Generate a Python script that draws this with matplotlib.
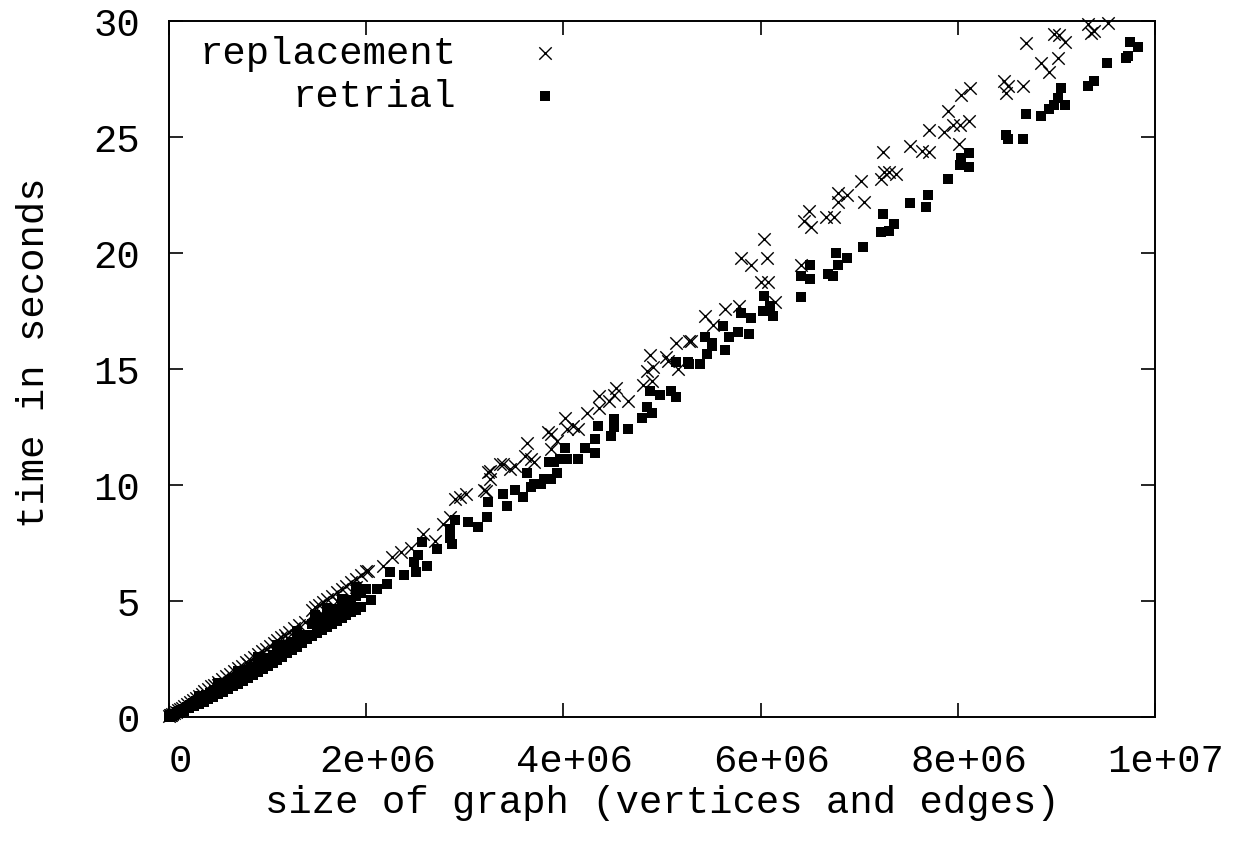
import matplotlib
matplotlib.use("Agg")
import matplotlib.pyplot as plt
import matplotlib.transforms as mtransforms
import numpy as np

# ---- data (size in millions of vertices+edges, time in seconds) ----
repl_size = [0.00,0.01,0.02,0.03,0.05,0.07,0.09,0.11,0.13,0.15,0.18,0.21,0.24,0.27,0.30,0.33,0.36,0.40,0.43,0.46,
             0.50,0.54,0.58,0.62,0.66,0.70,0.74,0.78,0.82,0.86,0.90,0.94,0.98,1.02,1.06,1.10,1.14,1.18,1.22,1.27,
             1.32,1.38,1.45,1.48,1.52,1.56,1.60,1.65,1.70,1.75,1.80,1.85,1.90,1.95,2.00,
             0.50,0.80,1.20,1.50,1.70,1.90,
             2.02,2.17,2.26,2.35,2.45,2.58,2.70,2.78,2.85,2.90,2.95,3.01,3.19,3.21,3.24,3.26,3.26,3.36,3.39,3.46,
             3.51,3.61,3.63,3.67,3.70,3.84,3.87,3.87,3.94,4.02,4.04,4.10,4.15,4.24,4.36,4.36,4.46,4.51,4.53,4.66,
             4.81,4.85,4.88,4.90,4.91,5.04,5.06,5.14,5.16,5.27,5.29,5.44,5.52,5.64,5.78,5.80,5.90,6.00,6.03,6.06,
             6.08,6.15,6.41,6.44,6.49,6.51,6.66,6.74,6.78,6.78,6.88,7.02,7.05,7.22,7.24,7.25,7.30,7.37,7.52,7.64,
             7.71,7.71,7.86,7.90,7.95,8.01,8.02,8.03,8.11,8.12,8.47,8.49,8.51,8.66,8.69,8.84,8.92,8.98,9.02,9.03,
             9.09,9.32,9.35,9.38,9.52]
repl_time = [0.05,0.08,0.10,0.12,0.18,0.22,0.30,0.35,0.40,0.47,0.55,0.65,0.72,0.82,0.92,1.00,1.10,1.22,1.33,1.40,
             1.52,1.63,1.75,1.86,1.98,2.12,2.20,2.35,2.45,2.58,2.72,2.85,2.95,3.05,3.20,3.32,3.45,3.55,3.68,3.82,
             3.95,4.10,4.62,4.72,4.82,4.95,5.10,5.22,5.38,5.50,5.65,5.82,5.95,6.10,6.28,
             1.40,2.30,3.40,4.30,5.00,5.60,
             6.30,6.50,6.90,7.10,7.30,7.90,7.60,8.30,8.60,9.40,9.50,9.60,9.80,9.75,10.55,10.25,10.60,10.90,10.90,10.70,
             10.80,11.25,11.80,11.10,11.00,12.30,12.20,11.55,11.90,12.90,12.40,12.55,12.40,13.10,13.85,13.30,13.60,13.90,14.20,13.60,
             14.30,14.90,15.60,14.50,15.10,15.50,15.35,16.10,15.00,16.20,16.20,17.30,16.90,17.60,17.70,19.80,19.50,18.75,20.60,19.80,
             18.75,17.90,19.50,21.40,21.80,21.10,21.55,21.55,22.60,22.20,22.50,23.10,22.20,23.20,24.35,23.50,23.50,23.40,24.60,24.40,
             24.35,25.30,25.20,26.10,25.50,24.70,25.50,26.80,25.70,27.10,27.40,26.90,27.20,27.20,29.05,28.20,27.80,29.44,28.40,29.40,
             29.10,29.87,29.50,29.57,29.90]

retr_size = [0.00,0.01,0.02,0.04,0.06,0.08,0.10,0.12,0.15,0.18,0.21,0.24,0.27,0.30,0.34,0.38,0.42,0.46,0.50,0.55,
             0.60,0.65,0.70,0.75,0.80,0.85,0.90,0.95,1.00,1.05,1.10,1.15,1.20,1.25,1.30,1.35,1.40,1.45,1.50,1.55,
             1.60,1.65,1.70,1.75,1.80,1.85,1.90,1.95,2.00,
             0.30,0.50,0.70,0.90,1.10,1.30,1.48,1.60,1.75,1.90,
             0.05,0.10,0.15,0.20,0.25,0.30,0.35,0.40,0.45,0.50,0.55,0.60,0.65,0.70,0.75,0.80,0.85,0.90,0.95,1.00,
             1.05,1.10,1.15,1.20,1.25,1.30,1.35,1.40,1.45,1.50,1.55,1.60,1.65,1.70,1.75,1.80,1.85,1.90,1.95,
             2.05,2.11,2.21,2.24,2.38,2.48,2.50,2.53,2.57,2.62,2.72,2.85,2.85,2.87,2.90,3.03,3.13,3.23,3.24,3.39,
             3.43,3.51,3.59,3.63,3.67,3.70,3.77,3.80,3.85,3.87,3.90,3.94,3.97,4.02,4.04,4.15,4.22,4.32,4.32,4.35,
             4.48,4.51,4.51,4.66,4.80,4.85,4.88,4.90,4.98,5.09,5.14,5.14,5.26,5.27,5.39,5.44,5.46,5.51,5.51,5.62,
             5.64,5.68,5.77,5.80,5.88,5.90,6.02,6.03,6.10,6.13,6.41,6.41,6.50,6.50,6.68,6.73,6.76,6.78,6.88,7.04,
             7.22,7.24,7.30,7.35,7.52,7.68,7.70,7.90,8.02,8.03,8.11,8.11,8.49,8.51,8.66,8.69,8.84,8.92,8.98,9.02,
             9.05,9.09,9.32,9.38,9.51,9.71,9.73,9.75,9.83]
retr_time = [0.02,0.05,0.07,0.10,0.15,0.20,0.25,0.30,0.36,0.44,0.52,0.60,0.68,0.76,0.85,0.95,1.05,1.15,1.25,1.38,
             1.50,1.62,1.78,1.90,2.02,2.15,2.30,2.42,2.55,2.68,2.82,2.95,3.10,3.22,3.35,3.48,3.55,4.00,4.12,4.25,
             4.38,4.50,4.65,4.78,4.90,5.05,5.20,5.35,5.50,
             0.90,1.45,2.00,2.60,3.10,3.70,4.40,4.70,5.10,5.60,
             0.10,0.18,0.28,0.37,0.47,0.56,0.66,0.76,0.86,0.97,1.08,1.20,1.32,1.44,1.57,1.70,1.83,1.96,2.08,2.20,
             2.33,2.46,2.60,2.74,2.88,3.02,3.18,3.36,3.50,3.64,3.76,3.90,4.02,4.14,4.28,4.40,4.52,4.62,4.74,
             5.05,5.50,5.75,6.25,6.10,6.70,6.25,7.00,7.55,6.50,7.25,7.70,8.10,7.45,8.50,8.40,8.20,8.60,9.25,9.60,
             9.10,9.80,9.50,10.50,9.90,10.05,10.05,10.25,11.00,10.25,11.00,10.50,11.10,11.60,11.10,11.10,11.60,12.00,11.40,12.55,
             12.10,12.85,12.50,12.40,12.90,13.35,14.05,13.10,13.90,14.05,13.80,15.30,15.30,15.20,15.20,16.40,15.65,16.00,16.10,16.85,
             15.80,16.40,16.60,17.40,16.50,17.20,17.50,18.15,17.70,17.30,18.10,19.00,19.50,18.90,19.10,19.00,20.00,19.50,19.80,20.25,
             20.90,21.70,20.95,21.25,22.15,22.00,22.50,23.20,23.80,24.10,23.70,24.30,25.10,24.90,24.90,26.00,25.90,26.20,26.40,26.70,
             27.10,26.40,27.20,27.40,28.20,28.40,28.50,29.10,28.90]

xtick_vals = [0, 2e6, 4e6, 6e6, 8e6, 1e7]
xtick_labels = ["0", "2e+06", "4e+06", "6e+06", "8e+06", "1e+07"]
ytick_vals = [0, 5, 10, 15, 20, 25, 30]

FONT = "Liberation Mono"
plt.rcParams["font.family"] = [FONT, "DejaVu Sans Mono"]
FS = 28

fig = plt.figure(figsize=(12.45, 8.45), dpi=100)
ax = fig.add_axes([169/1245, 1-718/845, (1155-169)/1245, (718-22)/845])

ax.scatter(np.array(repl_size)*1e6, repl_time, marker="x", s=80, c="black",
           linewidths=1.0, label="replacement", clip_on=False, zorder=3)
ax.scatter(np.array(retr_size)*1e6, retr_time, marker="s", s=62, c="black",
           linewidths=0, label="retrial", clip_on=False, zorder=2)

ax.set_xlim(0, 1e7)
ax.set_ylim(0, 30)
ax.set_xticks(xtick_vals)
ax.set_xticklabels(xtick_labels)
ax.set_yticks(ytick_vals)
ax.set_yticklabels([str(v) for v in ytick_vals])

ax.tick_params(direction="in", length=10, width=1.2, top=True, right=True,
               labelsize=FS, colors="black")
ax.tick_params(axis="x", pad=19)
ax.tick_params(axis="y", pad=21)
for sp in ax.spines.values():
    sp.set_linewidth(1.4)

off = mtransforms.ScaledTranslation(11/100, 0, fig.dpi_scale_trans)
for lab in ax.get_xticklabels():
    lab.set_transform(lab.get_transform() + off)

ax.set_xlabel("size of graph (vertices and edges)", fontsize=FS)
ax.set_ylabel("time in seconds", fontsize=FS)
ax.xaxis.set_label_coords(0.5, (718-785)/696)
ax.yaxis.set_label_coords((52-169)/986, 0.5 + 17/696)

leg = ax.legend(loc="upper left", bbox_to_anchor=((199-169)/986, (718-36)/696), frameon=False,
                markerfirst=False, fontsize=28, handlelength=1.6,
                handletextpad=1.49, labelspacing=0.18, borderaxespad=0, borderpad=0)

fig.savefig("out.png", dpi=100)
